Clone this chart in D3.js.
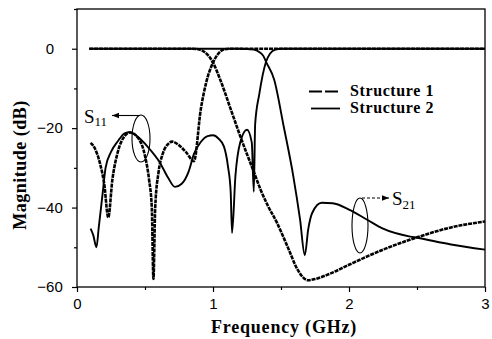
<!DOCTYPE html>
<html><head><meta charset="utf-8">
<script src="https://cdn.jsdelivr.net/npm/d3@7"></script>
<style>
html,body{margin:0;padding:0;background:#fff;}
svg{display:block;}
</style></head>
<body>
<svg id="chart" width="492" height="339"></svg>
<script>
// ---- data (frequency GHz, magnitude dB) ----
const s21Structure1 = [[0.09,0],[0.5,0],[0.85,0],[0.9,-0.2],[0.94,-0.9],[0.97,-1.9],[1.0,-3.5],[1.05,-7.5],[1.13,-15.2],[1.2,-22],[1.3,-31],[1.35,-35.5],[1.4,-39.3],[1.47,-43.8],[1.55,-50],[1.62,-55.5],[1.66,-57.5],[1.7,-58.3],[1.75,-58],[1.85,-56.8],[2.0,-54.4],[2.25,-50.6],[2.5,-47.5],[2.75,-45],[3.0,-43.5]];
const s11Structure1 = [[0.1,-23.7],[0.13,-25],[0.17,-29],[0.2,-34],[0.23,-42.5],[0.26,-33],[0.3,-26],[0.35,-22],[0.39,-21.1],[0.45,-22.5],[0.5,-27],[0.53,-33],[0.55,-40],[0.562,-58],[0.575,-40],[0.6,-31],[0.63,-26.5],[0.67,-24],[0.7,-23.4],[0.75,-24.3],[0.8,-26],[0.86,-28.3],[0.91,-15.3],[0.95,-8.5],[1.0,-3.5],[1.04,-1.2],[1.08,-0.2],[1.12,0],[2.0,0],[3.0,0]];
const s11Structure2 = [[0.1,-45.3],[0.12,-47],[0.143,-50],[0.16,-45],[0.19,-36],[0.21,-30],[0.25,-26],[0.3,-23.3],[0.35,-21.3],[0.39,-21],[0.44,-22],[0.52,-24.7],[0.61,-28.7],[0.67,-32.5],[0.72,-34.8],[0.77,-34],[0.82,-31],[0.86,-26.5],[0.91,-23.5],[0.96,-22],[1.0,-21.8],[1.04,-22.6],[1.08,-24.6],[1.11,-29.6],[1.13,-36],[1.14,-46.4],[1.165,-32],[1.2,-23.6],[1.25,-20.4],[1.285,-23.6],[1.3,-36],[1.31,-19],[1.34,-11.5],[1.39,-3.3],[1.42,-1.2],[1.46,-0.2],[1.5,0],[2.0,0],[3.0,0]];
const s21Structure2 = [[0.09,0],[0.6,0],[1.2,0],[1.3,-0.2],[1.34,-0.8],[1.37,-1.8],[1.39,-3.3],[1.45,-7.8],[1.52,-19.6],[1.59,-32],[1.64,-43],[1.675,-52],[1.7,-45.5],[1.73,-41.3],[1.8,-38.8],[1.88,-38.9],[2.0,-40.5],[2.13,-43],[2.25,-45.3],[2.45,-47.3],[2.5,-47.6],[2.75,-49.3],[3.0,-50.6]];

const xTicks = [0, 1, 2, 3];
const xMinorTicks = [0.5, 1.5, 2.5];
const yTicks = [0, -20, -40, -60];
const yMinorTicks = [10, -10, -30, -50];
const legendLabels = ["Structure 1", "Structure 2"];

// ---- layout ----
const svg = d3.select("#chart");
const L = 77, R = 485, T = 9, B = 287;
const x = d3.scaleLinear().domain([0, 3]).range([L, R]);
const y = d3.scaleLinear().domain([-60, 10]).range([B, T]);

const serif = "'Liberation Serif','Times New Roman',serif";
const sans = "'Liberation Sans',Arial,sans-serif";

// frame
svg.append("rect").attr("x", L).attr("y", T).attr("width", R - L).attr("height", B - T)
  .attr("fill", "none").attr("stroke", "#000").attr("stroke-width", 1.3);

// axes
const xAxis = svg.append("g").attr("transform", `translate(0,${B})`)
  .call(d3.axisBottom(x).tickValues(xTicks).tickFormat(d3.format("d")).tickSize(5).tickPadding(6));
const xMinor = svg.append("g").attr("transform", `translate(0,${B})`)
  .call(d3.axisBottom(x).tickValues(xMinorTicks).tickFormat("").tickSize(3));
const yAxis = svg.append("g").attr("transform", `translate(${L},0)`)
  .call(d3.axisLeft(y).tickValues(yTicks).tickFormat(d3.format("d")).tickSize(5));
const yMinor = svg.append("g").attr("transform", `translate(${L},0)`)
  .call(d3.axisLeft(y).tickValues(yMinorTicks).tickFormat("").tickSize(3));
[xAxis, xMinor, yAxis, yMinor].forEach(g => {
  g.select(".domain").remove();
  g.selectAll(".tick line").attr("stroke", "#000").attr("stroke-width", 1.2);
});
xAxis.selectAll("text").attr("font-family", sans).attr("font-size", 15).attr("fill", "#000");
yAxis.selectAll("text").attr("font-family", sans).attr("font-size", 15).attr("fill", "#000")
  .attr("text-anchor", "middle").attr("x", -27);

// axis titles
svg.append("text").attr("x", (L + R) / 2 + 3).attr("y", 333).attr("text-anchor", "middle")
  .attr("font-family", serif).attr("font-weight", "bold").attr("font-size", 18)
  .attr("letter-spacing", 0.8).text("Frequency (GHz)");
svg.append("text").attr("transform", "translate(26,165) rotate(-90)").attr("text-anchor", "middle")
  .attr("font-family", serif).attr("font-weight", "bold").attr("font-size", 18)
  .attr("letter-spacing", 0.5).text("Magnitude (dB)");

// curves
const line = d3.line().x(d => x(d[0])).y(d => y(d[1])).curve(d3.curveMonotoneX);
const plot = svg.append("g");
function solid(data) {
  plot.append("path").datum(data).attr("d", line).attr("fill", "none")
    .attr("stroke", "#000").attr("stroke-width", 1.9).attr("stroke-linejoin", "round");
}
function dashed(data) {
  plot.append("path").datum(data).attr("d", line).attr("fill", "none")
    .attr("stroke", "#000").attr("stroke-width", 2.6).attr("stroke-dasharray", "4,0.9")
    .attr("stroke-linejoin", "round");
}
solid(s21Structure2);
solid(s11Structure2);
dashed(s21Structure1);
dashed(s11Structure1);

// legend
const lg = svg.append("g");
lg.append("line").attr("x1", 309).attr("x2", 340).attr("y1", 91.5).attr("y2", 91.5)
  .attr("stroke", "#000").attr("stroke-width", 1.8).attr("stroke-dasharray", "13,3");
lg.append("line").attr("x1", 311).attr("x2", 340).attr("y1", 108.5).attr("y2", 108.5)
  .attr("stroke", "#000").attr("stroke-width", 1.8);
legendLabels.forEach((t, i) => {
  lg.append("text").attr("x", 350).attr("y", 96 + i * 17).attr("font-family", serif)
    .attr("font-weight", "bold").attr("font-size", 16).attr("letter-spacing", 0.6).text(t);
});

// annotations
svg.append("defs").append("marker").attr("id", "ah").attr("viewBox", "0 0 10 10")
  .attr("refX", 10).attr("refY", 5).attr("markerWidth", 7).attr("markerHeight", 7)
  .attr("markerUnits", "userSpaceOnUse").attr("orient", "auto")
  .append("path").attr("d", "M0,1 L10,5 L0,9 Z").attr("fill", "#000");

svg.append("ellipse").attr("cx", 141).attr("cy", 138.5).attr("rx", 9).attr("ry", 23.5)
  .attr("fill", "none").attr("stroke", "#000").attr("stroke-width", 1.1);
svg.append("line").attr("x1", 140).attr("y1", 115.5).attr("x2", 112).attr("y2", 115.5)
  .attr("stroke", "#000").attr("stroke-width", 1.1).attr("marker-end", "url(#ah)");
const s11 = svg.append("text").attr("x", 84).attr("y", 123).attr("font-family", serif).attr("font-size", 19);
s11.append("tspan").text("S");
s11.append("tspan").attr("font-size", 13).attr("dy", 3).text("11");

svg.append("ellipse").attr("cx", 360).attr("cy", 225.5).attr("rx", 8).attr("ry", 27.5)
  .attr("fill", "none").attr("stroke", "#000").attr("stroke-width", 1.1);
svg.append("line").attr("x1", 362).attr("y1", 198).attr("x2", 389).attr("y2", 198)
  .attr("stroke", "#000").attr("stroke-width", 1.1).attr("stroke-dasharray", "3,2").attr("marker-end", "url(#ah)");
const s21 = svg.append("text").attr("x", 392).attr("y", 205).attr("font-family", serif).attr("font-size", 19);
s21.append("tspan").text("S");
s21.append("tspan").attr("font-size", 13).attr("dy", 4).text("21");
</script>
</body></html>
